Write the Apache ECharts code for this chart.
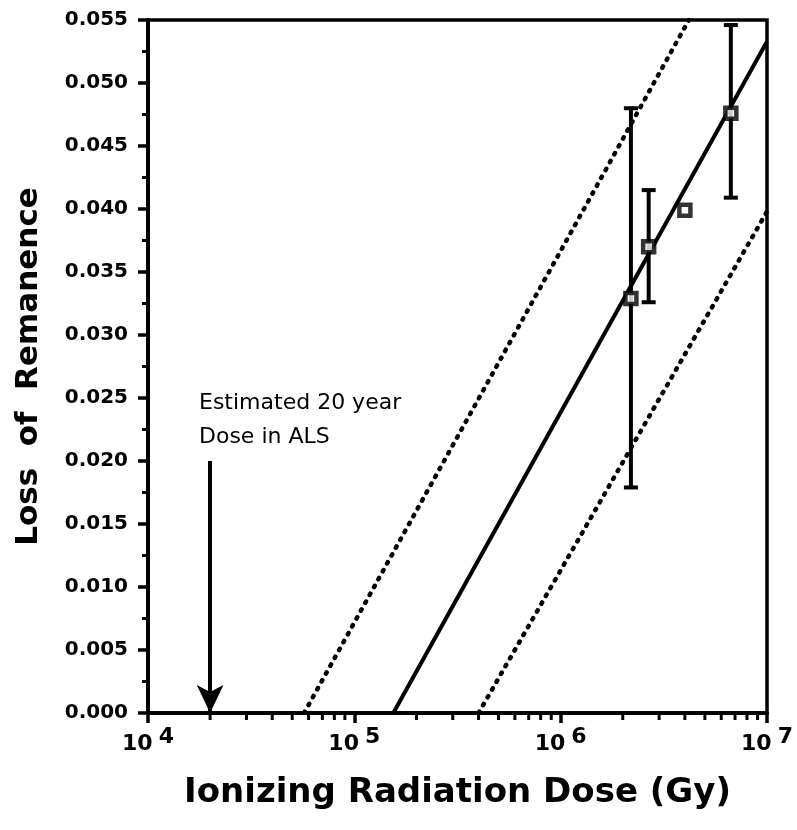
<!DOCTYPE html>
<html>
<head>
<meta charset="utf-8">
<script src="https://cdn.jsdelivr.net/npm/echarts@6/dist/echarts.min.js"></script>
<style>
html,body{margin:0;padding:0;background:#fff;}
#chart{width:797px;height:830px;}
</style>
</head>
<body>
<div id="chart"></div>
<script>
// Measured points (dose in Gy, loss of remanence)
var doses = [2.19e6, 2.67e6, 4.0e6, 6.68e6];
var losses = [0.0329, 0.0370, 0.0399, 0.0476];
// Error bars: [dose, low, high]
var errDoses = [2.19e6, 2.67e6, 6.68e6];
var errLow = [0.0179, 0.0326, 0.0409];
var errHigh = [0.0480, 0.0415, 0.0546];
// Fit line and confidence bounds (two endpoints each)
var fitX = [1.545e5, 1e7];
var fitY = [0, 0.0533];
var upperX = [5.71e4, 4.18e6];
var upperY = [0, 0.055];
var lowerX = [4.0e5, 1e7];
var lowerY = [0, 0.0398];
// Arrow: estimated 20-year dose in ALS
var arrowDose = 2.0e4;
var arrowTop = 0.020;
// Axis settings
var yTicks = [0, 0.005, 0.010, 0.015, 0.020, 0.025, 0.030, 0.035, 0.040, 0.045, 0.050, 0.055];
var xDecades = [1e4, 1e5, 1e6, 1e7];

function zip(a, b) { return a.map(function (v, i) { return [v, b[i]]; }); }

var minorX = [];
xDecades.slice(0, 3).forEach(function (d) {
  for (var k = 2; k <= 9; k++) minorX.push(d * k);
});

var chart = echarts.init(document.getElementById('chart'), null, {renderer: 'canvas'});
var FONT = 'DejaVu Sans';

var option = {
  animation: false,
  backgroundColor: '#fff',
  grid: {left: 148, right: 30, top: 20, bottom: 117, show: true, borderColor: '#000', borderWidth: 3.5},
  xAxis: {
    type: 'log', logBase: 10, min: xDecades[0], max: xDecades[3],
    name: 'Ionizing Radiation Dose (Gy)', nameLocation: 'middle', nameGap: 63,
    nameTextStyle: {fontFamily: FONT, fontWeight: 'bold', fontSize: 34, color: '#000'},
    axisLine: {lineStyle: {color: '#000', width: 4}},
    axisTick: {show: true, length: 10, lineStyle: {color: '#000', width: 3.5}},
    minorTick: {show: false},
    splitLine: {show: false},
    axisLabel: {
      margin: 13, color: '#000',
      formatter: function (v) { return '{b|10}{s|' + Math.round(Math.log10(v)) + '}'; },
      rich: {
        b: {fontFamily: FONT, fontWeight: 'bold', fontSize: 22, color: '#000', lineHeight: 29, verticalAlign: 'bottom'},
        s: {fontFamily: FONT, fontWeight: 'bold', fontSize: 22, color: '#000', lineHeight: 22, verticalAlign: 'top', padding: [0, 0, 0, 6]}
      }
    }
  },
  yAxis: {
    type: 'value', min: yTicks[0], max: yTicks[yTicks.length - 1], interval: 0.005,
    name: 'Loss  of  Remanence', nameLocation: 'middle', nameGap: 104, nameRotate: 90,
    nameTextStyle: {fontFamily: FONT, fontWeight: 'bold', fontSize: 31, color: '#000'},
    axisLine: {show: true, lineStyle: {color: '#000', width: 4}},
    axisTick: {show: true, length: 10, lineStyle: {color: '#000', width: 3.5}},
    minorTick: {show: true, splitNumber: 2, length: 6, lineStyle: {color: '#000', width: 3}},
    splitLine: {show: false},
    axisLabel: {
      margin: 20, color: '#000', fontFamily: FONT, fontWeight: 'bold', fontSize: 20,
      formatter: function (v) { return v.toFixed(3); }
    }
  },
  series: [
    {
      type: 'line', data: zip(fitX, fitY), symbol: 'none',
      lineStyle: {color: '#000', width: 4}, z: 3
    },
    {
      type: 'line', data: zip(upperX, upperY), symbol: 'none',
      lineStyle: {color: '#000', width: 4.5, type: [1.5, 7.5], cap: 'round'}, z: 3
    },
    {
      type: 'line', data: zip(lowerX, lowerY), symbol: 'none',
      lineStyle: {color: '#000', width: 4.5, type: [1.5, 7.5], cap: 'round'}, z: 3
    },
    {
      type: 'custom', z: 4,
      data: errDoses.map(function (d, i) { return [d, errLow[i], errHigh[i]]; }),
      renderItem: function (params, api) {
        var lo = api.coord([api.value(0), api.value(1)]);
        var hi = api.coord([api.value(0), api.value(2)]);
        var hw = 7;
        var st = {stroke: '#000', lineWidth: 4};
        return {type: 'group', children: [
          {type: 'line', shape: {x1: lo[0], y1: lo[1], x2: hi[0], y2: hi[1]}, style: st},
          {type: 'line', shape: {x1: lo[0] - hw, y1: lo[1], x2: lo[0] + hw, y2: lo[1]}, style: st},
          {type: 'line', shape: {x1: hi[0] - hw, y1: hi[1], x2: hi[0] + hw, y2: hi[1]}, style: st}
        ]};
      }
    },
    {
      type: 'scatter', z: 5, data: zip(doses, losses), symbol: 'rect', symbolSize: 11,
      itemStyle: {color: '#fff', borderColor: '#000', borderWidth: 4.5}
    },
    {
      type: 'custom', z: 2, clip: false,
      data: minorX.map(function (v) { return [v, 0]; }),
      renderItem: function (params, api) {
        var p = api.coord([api.value(0), 0]);
        return {type: 'line', shape: {x1: p[0], y1: p[1], x2: p[0], y2: p[1] + 7},
          style: {stroke: '#000', lineWidth: 3}};
      }
    },
    {
      type: 'line', data: [], symbol: 'none',
      markLine: {
        silent: true, symbol: ['none', 'arrow'], symbolSize: [20, 28],
        label: {show: false},
        lineStyle: {color: '#000', width: 4, type: 'solid'},
        data: [[{coord: [arrowDose, arrowTop]}, {coord: [arrowDose, 0]}]]
      }
    }
  ],
  graphic: [
    {
      type: 'text', left: 199, top: 386,
      style: {text: 'Estimated 20 year\nDose in ALS', fontFamily: FONT, fontSize: 22, lineHeight: 34, fill: '#000'}
    }
  ]
};
chart.setOption(option);
</script>
</body>
</html>
